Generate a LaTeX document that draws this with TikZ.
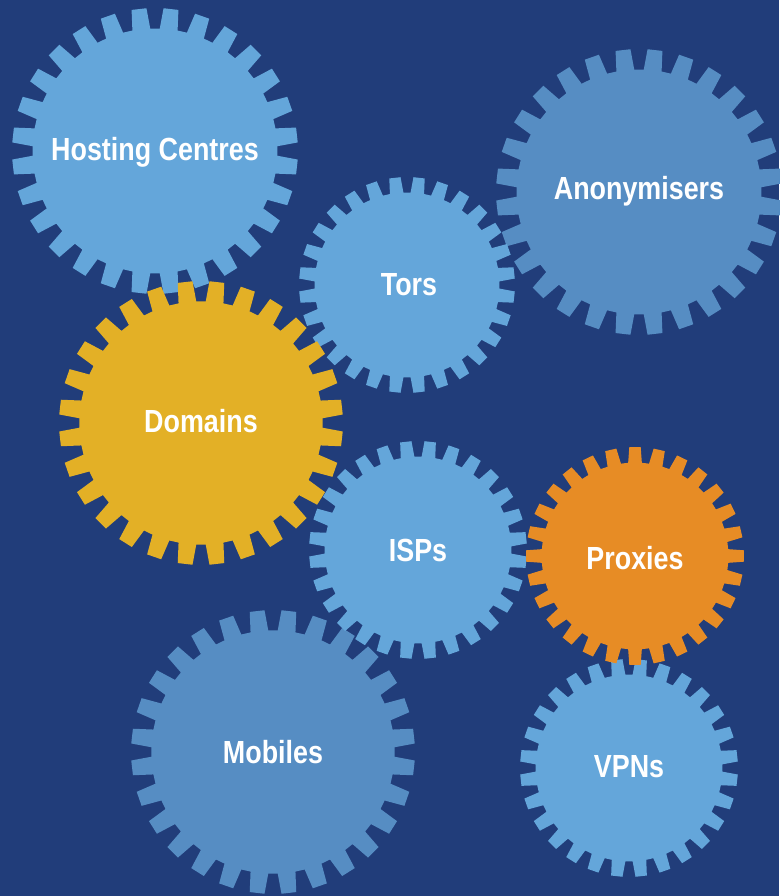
\documentclass[tikz,border=0pt]{standalone}
\usepackage{fontspec}
\setmainfont{Liberation Sans}
\definecolor{bgblue}{HTML}{213D7A}
\definecolor{lightblue}{HTML}{64A6DA}
\definecolor{midblue}{HTML}{568DC3}
\definecolor{gold}{HTML}{E3B026}
\definecolor{orange}{HTML}{E78C25}
% gear outline: 28 trapezoidal teeth; #1 tip radius, #2 root radius, #3 phase (deg)
\newcommand\gearoutline[3]{%
  ({#3-4.2}:#2)
  \foreach \i in {0,...,27}{
    -- ({#3+\i*12.857-4.2}:#2) -- ({#3+\i*12.857-3.0}:#1)
    -- ({#3+\i*12.857+3.0}:#1) -- ({#3+\i*12.857+4.2}:#2)
  } -- cycle}
% \cog{x}{y}{tip radius}{phase}{colour}
\newcommand\cog[5]{%
  \begin{scope}[shift={(#1,#2)}]
    \fill[#5] \gearoutline{#3}{0.857*#3}{#4};
  \end{scope}}
\tikzset{
  label text/.style={text=white, inner sep=0pt,
    font=\bfseries\fontsize{32}{36}\selectfont},
}
\newcommand\narrow[1]{\scalebox{0.84}[1]{#1}}
\begin{document}
\begin{tikzpicture}[x=1pt,y=1pt]
  \fill[bgblue] (0,0) rectangle (779,896);
  \useasboundingbox (0,0) rectangle (779,896);

  \cog{155}{745}{143}{6.43}{lightblue}
  \cog{639}{704}{143}{6.43}{midblue}
  \cog{407}{611}{108}{6.43}{lightblue}
  \cog{201}{473}{142}{6.43}{gold}
  \cog{273}{144}{142}{6.43}{midblue}
  \cog{418}{346}{109}{6.43}{lightblue}
  \cog{629}{128}{109}{6.43}{lightblue}
  \cog{635}{340}{109}{0}{orange}

  \node[label text] (hosting) at (155,744) {\narrow{Hosting Centres}};
  \node[label text] (anon)    at (639,705) {\narrow{Anonymisers}};
  \node[label text] (tors)    at (409,611) {\narrow{Tors}};
  \node[label text] (domains) at (201,475) {\narrow{Domains}};
  \node[label text] (isps)    at (418,346) {\narrow{ISPs}};
  \node[label text] (proxies) at (635,338) {\narrow{Proxies}};
  \node[label text] (mobiles) at (273,144) {\narrow{Mobiles}};
  \node[label text] (vpns)    at (629,129) {\narrow{VPNs}};
\end{tikzpicture}
\end{document}
